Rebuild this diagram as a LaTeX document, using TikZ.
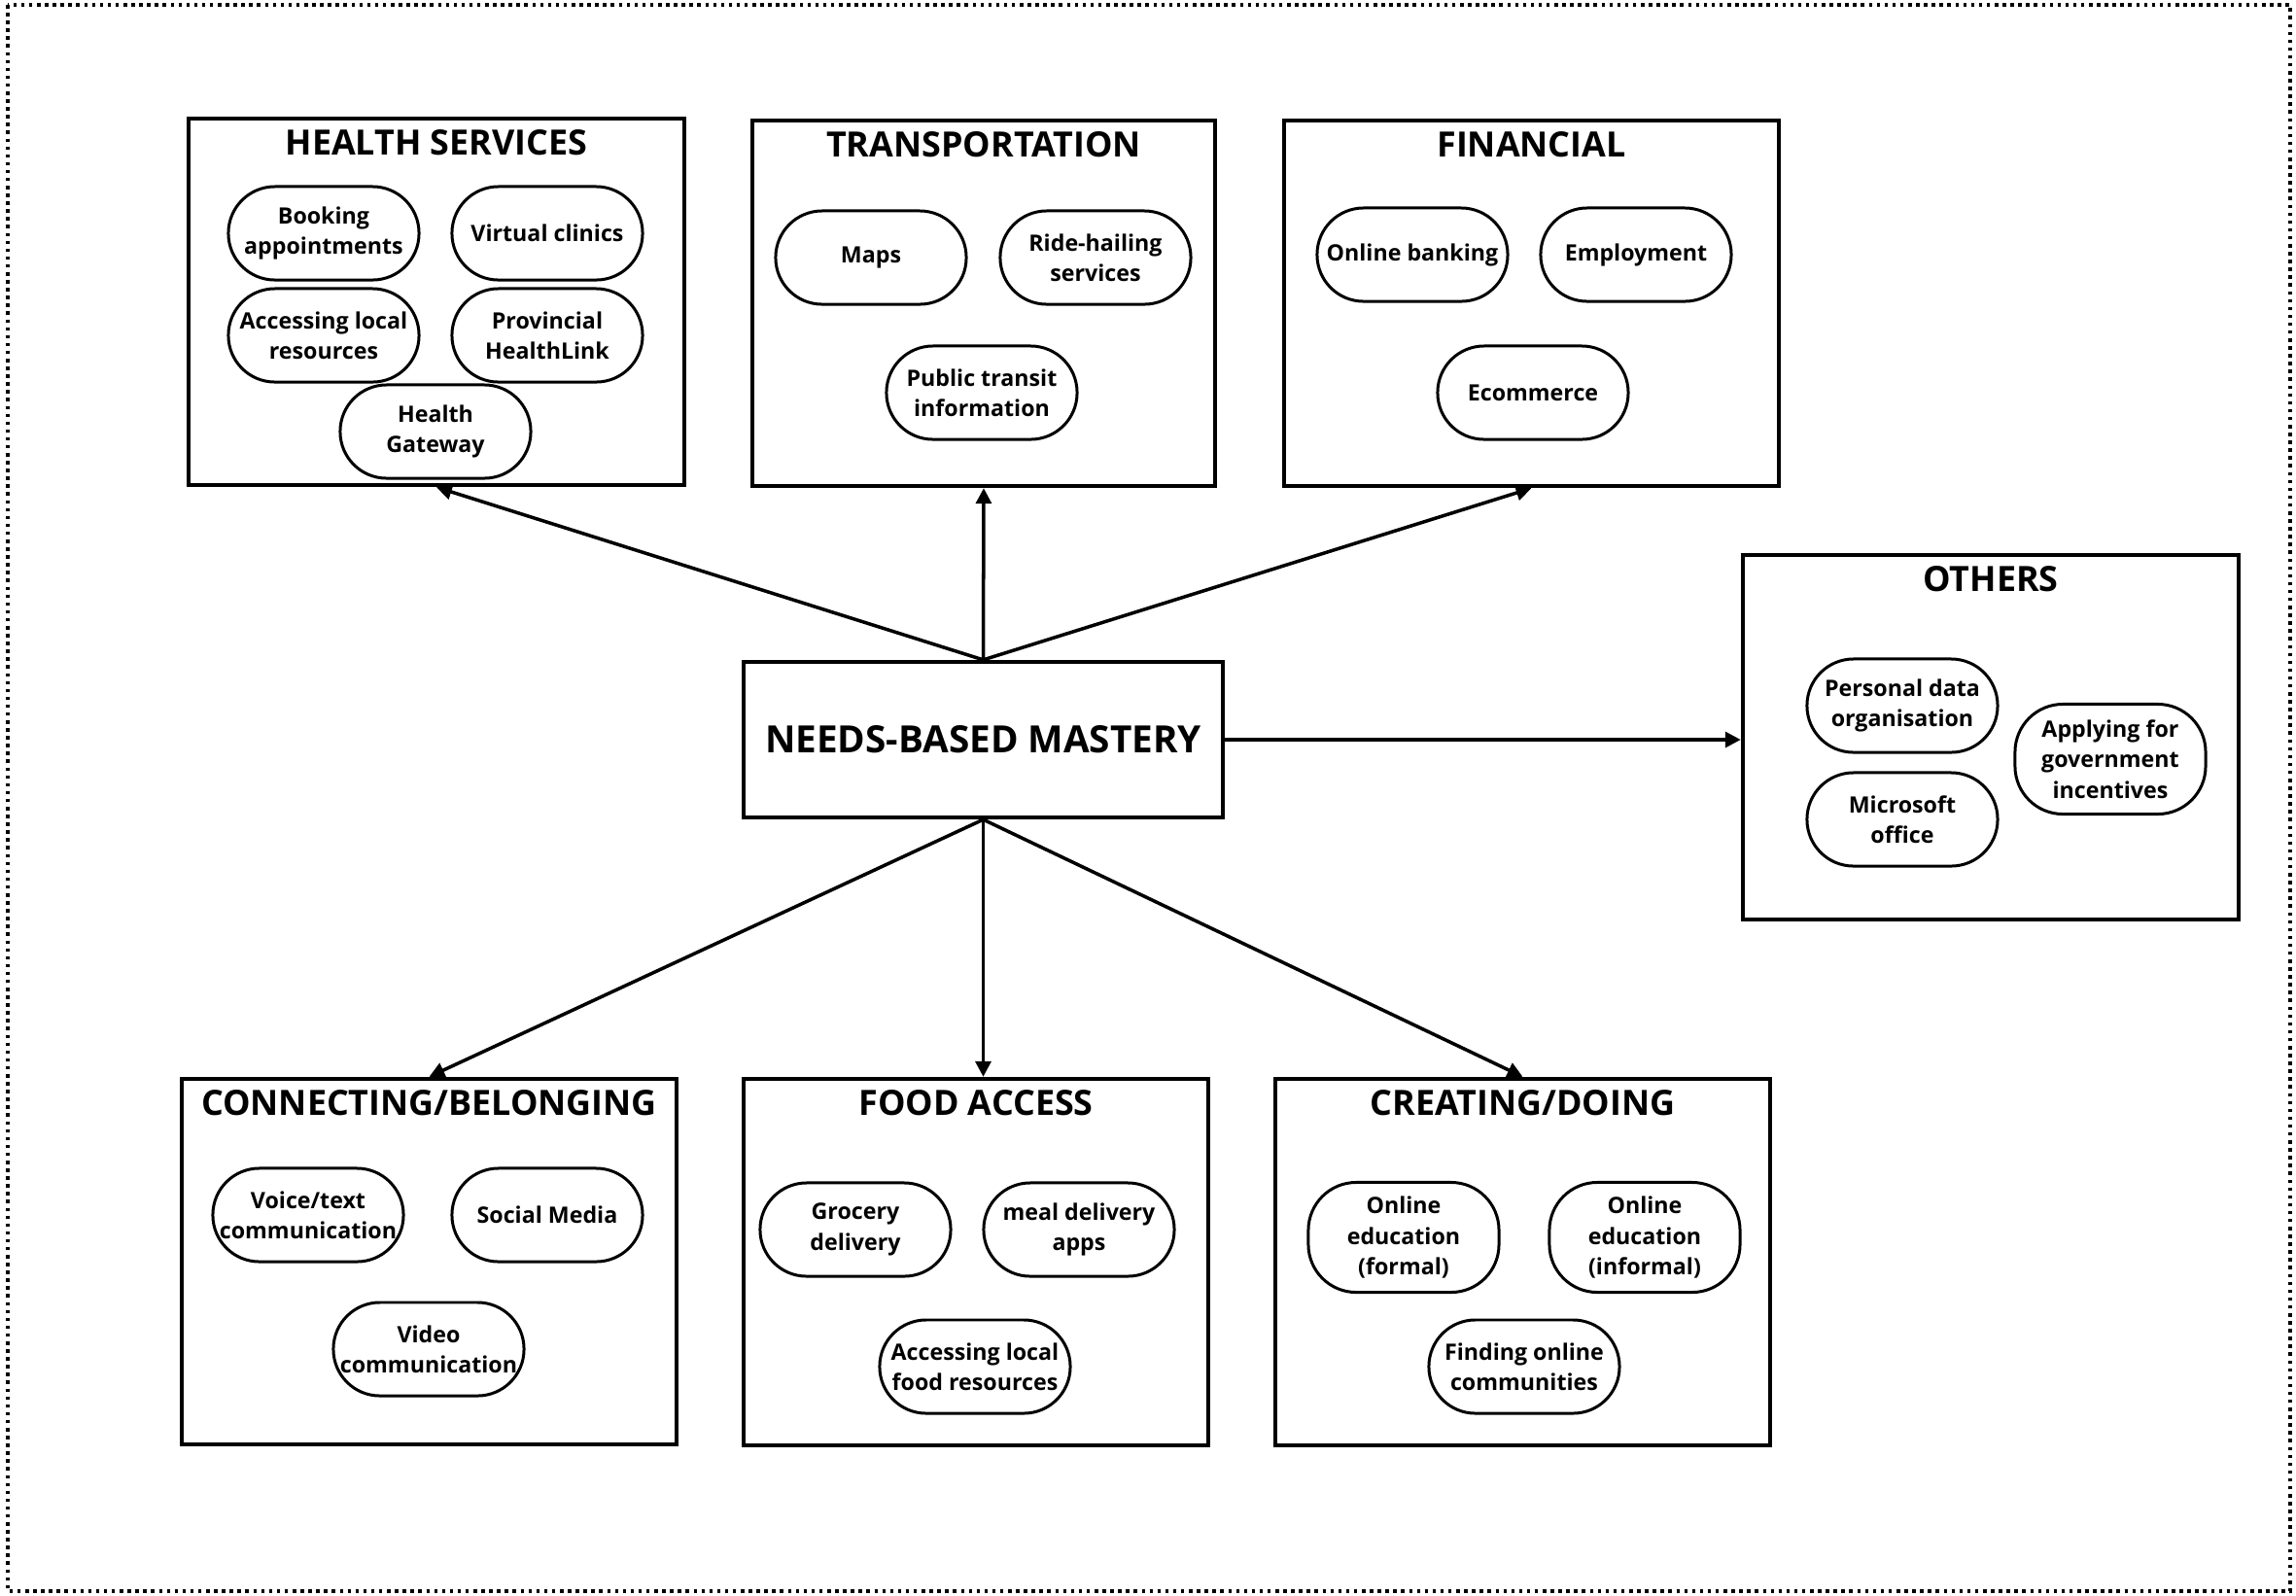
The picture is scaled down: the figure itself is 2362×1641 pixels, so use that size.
\documentclass[tikz,border=0pt]{standalone}
\usepackage{fontspec}
\setmainfont{Open Sans}
\usetikzlibrary{arrows.meta}
\begin{document}
\begin{tikzpicture}[x=0.01cm,y=-0.01cm,
  catbox/.style={draw, line width=1.2pt, inner sep=0pt},
  mainbox/.style={draw, line width=1.2pt, inner sep=0pt, font=\bfseries\fontsize{11}{13}\selectfont},
  cattitle/.style={anchor=base, inner sep=0pt, font=\bfseries\fontsize{10.2}{12}\selectfont},
  pill/.style={draw, line width=0.85pt, rounded corners=13.6pt, minimum width=19.6mm, minimum height=9.6mm, inner sep=0pt, align=center, font=\bfseries\fontsize{6.6}{8.9}\selectfont},
  tallpill/.style={pill, minimum height=11.3mm, rounded corners=14pt},
  conn/.style={line width=1pt, -{Triangle[length=4.5pt,width=4.5pt]}},
  border/.style={line width=1pt, dash pattern=on 1pt off 1.3pt}
]
\useasboundingbox (0,0) rectangle (2362,1641);
\draw[border] (8,5) rectangle (2356,1637);

% category boxes
\node[catbox, minimum width=51mm, minimum height=37.7mm] (health) at (449,310.5) {};
\node[catbox, minimum width=47.6mm, minimum height=37.6mm] (transp) at (1012,312) {};
\node[catbox, minimum width=50.9mm, minimum height=37.6mm] (fin) at (1575.5,312) {};
\node[catbox, minimum width=51mm, minimum height=37.5mm] (others) at (2048,758.5) {};
\node[mainbox, minimum width=49.3mm, minimum height=16mm] (main) at (1011.5,761) {NEEDS-BASED MASTERY};
\node[catbox, minimum width=50.9mm, minimum height=37.6mm] (conn) at (441.5,1298) {};
\node[catbox, minimum width=47.8mm, minimum height=37.7mm] (food) at (1004,1298.5) {};
\node[catbox, minimum width=50.9mm, minimum height=37.7mm] (create) at (1566.5,1298.5) {};

% titles
\node[cattitle] (healtht) at ([yshift=-4mm]health.north) {HEALTH SERVICES};
\node[cattitle] (transpt) at ([yshift=-4mm]transp.north) {TRANSPORTATION};
\node[cattitle] (fint) at ([yshift=-4mm]fin.north) {FINANCIAL};
\node[cattitle] (otherst) at ([yshift=-4mm]others.north) {OTHERS};
\node[cattitle] (connt) at ([yshift=-4mm]conn.north) {CONNECTING/BELONGING};
\node[cattitle] (foodt) at ([yshift=-4mm]food.north) {FOOD ACCESS};
\node[cattitle] (createt) at ([yshift=-4mm]create.north) {CREATING/DOING};

% health pills
\node[pill] (h1) at (333,240) {Booking\\appointments};
\node[pill] (h2) at (563,240) {Virtual clinics};
\node[pill] (h3) at (333,345) {Accessing local\\resources};
\node[pill] (h4) at (563,345) {Provincial\\HealthLink};
\node[pill] (h5) at (448,444) {Health\\Gateway};

% transportation pills
\node[pill] (t1) at (896,265) {Maps};
\node[pill] (t2) at (1127,265) {Ride-hailing\\services};
\node[pill] (t3) at (1010,404) {Public transit\\information};

% financial pills
\node[pill] (f1) at (1453,262) {Online banking};
\node[pill] (f2) at (1683,262) {Employment};
\node[pill] (f3) at (1577,404) {Ecommerce};

% others pills
\node[pill] (o1) at (1957,726) {Personal data\\organisation};
\node[pill] (o2) at (1957,843) {Microsoft\\office};
\node[tallpill] (o3) at (2171,781) {Applying for\\government\\incentives};

% connecting pills
\node[pill] (c1) at (317,1250) {Voice/text\\communication};
\node[pill] (c2) at (563,1250) {Social Media};
\node[pill] (c3) at (441,1388) {Video\\communication};

% food pills
\node[pill] (d1) at (880,1265) {Grocery\\delivery};
\node[pill] (d2) at (1110,1265) {meal delivery\\apps};
\node[pill] (d3) at (1003,1406) {Accessing local\\food resources};

% creating pills
\node[tallpill] (e1) at (1444,1273) {Online\\education\\(formal)};
\node[tallpill] (e2) at (1692,1273) {Online\\education\\(informal)};
\node[pill] (e3) at (1568,1406) {Finding online\\communities};

% connectors
\draw[conn] (main.north) -- (health.south);
\draw[conn] (main.north) -- (transp.south);
\draw[conn] (main.north) -- (fin.south);
\draw[conn] (main.east) -- (main.east -| others.west);
\draw[conn] (main.south) -- (conn.north);
\draw[conn] (main.south) -- (main.south |- food.north);
\draw[conn] (main.south) -- (create.north);
\end{tikzpicture}
\end{document}
